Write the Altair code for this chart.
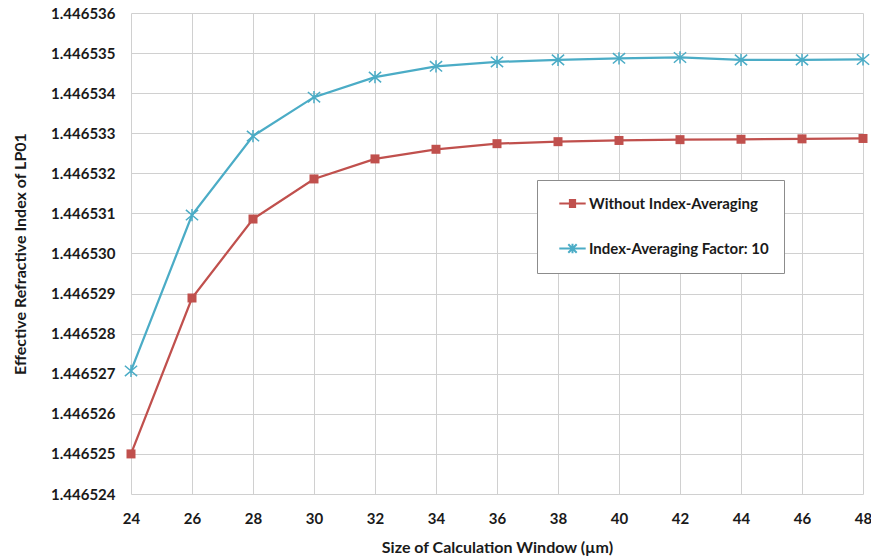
import altair as alt
import pandas as pd

# ---- data ----
window_um = [24, 26, 28, 30, 32, 34, 36, 38, 40, 42, 44, 46, 48]
without_avg = [1.44652500, 1.44652889, 1.44653086, 1.44653186, 1.44653236,
               1.44653260, 1.44653274, 1.44653279, 1.44653282, 1.44653284,
               1.44653285, 1.44653286, 1.44653287]
factor_10 = [1.44652707, 1.44653096, 1.44653293, 1.44653390, 1.44653440,
             1.44653467, 1.44653478, 1.44653483, 1.44653487, 1.44653489,
             1.44653483, 1.44653483, 1.44653484]
series_names = ["Without Index-Averaging", "Index-Averaging Factor: 10"]
x_ticks = [24, 26, 28, 30, 32, 34, 36, 38, 40, 42, 44, 46, 48]
y_ticks = [1.446524, 1.446525, 1.446526, 1.446527, 1.446528, 1.446529, 1.446530,
           1.446531, 1.446532, 1.446533, 1.446534, 1.446535, 1.446536]

RED = "#C0504D"
BLUE = "#4BACC6"
FONT = "Lato"

rows = []
for xv, a, b in zip(window_um, without_avg, factor_10):
    rows.append({"x": xv, "y": a, "series": series_names[0]})
    rows.append({"x": xv, "y": b, "series": series_names[1]})
df = pd.DataFrame(rows)

xenc = alt.X("x:Q",
             scale=alt.Scale(domain=[24, 48], nice=False, zero=False),
             axis=alt.Axis(values=x_ticks, title="Size of Calculation Window (µm)",
                           format="d", ticks=False, tickSize=0, domain=False,
                           labelFlush=False, labelBound=False,
                           labelPadding=17, labelFontSize=15, labelFont=FONT,
                           labelFontWeight="bold", labelColor="#1a1a1a",
                           titleFont=FONT, titleFontSize=16, titleFontWeight="bold",
                           titleColor="#1a1a1a", titleX=366, titleY=53,
                           titleBaseline="middle", titleAlign="center",
                           gridColor="#d0d0d0", gridWidth=1))
yenc = alt.Y("y:Q",
             scale=alt.Scale(domain=[1.446524, 1.446536], nice=False, zero=False),
             axis=alt.Axis(values=y_ticks, format=".6f",
                           title="Effective Refractive Index of LP01",
                           ticks=False, tickSize=0, domain=False,
                           labelFlush=False, labelBound=False,
                           labelPadding=16, labelFontSize=15, labelFont=FONT,
                           labelFontWeight="bold", labelColor="#1a1a1a",
                           titleFont=FONT, titleFontSize=16, titleFontWeight="bold",
                           titleColor="#1a1a1a", titleX=-111, titleY=240.5,
                           titleAngle=270, titleBaseline="middle", titleAlign="center",
                           gridColor="#d0d0d0", gridWidth=1))

base = alt.Chart(df)
red_data = base.transform_filter(alt.datum.series == series_names[0])
blue_data = base.transform_filter(alt.datum.series == series_names[1])

red_line = red_data.mark_line(strokeWidth=2.25, color=RED).encode(x=xenc, y=yenc)
blue_line = blue_data.mark_line(strokeWidth=2.25, color=BLUE).encode(x="x:Q", y="y:Q")

red_pts = red_data.mark_square(size=81, filled=True, color=RED, opacity=1).encode(
    x="x:Q", y="y:Q")

ASTER = "M-1,-0.85L1,0.85M-1,0.85L1,-0.85M0,-1L0,1"
blue_pts = blue_data.mark_point(shape=ASTER, size=150, filled=False, color=BLUE,
                                strokeWidth=1.5, opacity=1).encode(x="x:Q", y="y:Q")

# legend symbols: line segment with marker (stroke-only paths)
LEG_RED = ("M-2.2,0L2.2,0M-0.6,-0.6H0.6M-0.6,-0.4H0.6M-0.6,-0.2H0.6M-0.6,0H0.6"
           "M-0.6,0.2H0.6M-0.6,0.4H0.6M-0.6,0.6H0.6")
LEG_BLUE = "M-2.2,0L2.2,0M-0.7,-0.7L0.7,0.7M-0.7,0.7L0.7,-0.7M0,-0.8L0,0.8"


def make_legend():
    return alt.Legend(title=" ", titleFontSize=1, titlePadding=0,
                      orient="none", legendX=406, legendY=167,
                      strokeColor="#8c8c8c", fillColor="white", padding=15,
                      symbolSize=144, symbolOffset=13, labelOffset=9,
                      rowPadding=27, labelFont=FONT, labelFontSize=15,
                      labelFontWeight="bold", labelColor="#1a1a1a",
                      symbolStrokeWidth=2, labelLimit=400)


legend_layer = base.transform_filter("false").mark_point(filled=False, opacity=1).encode(
    x="x:Q", y="y:Q",
    color=alt.Color("series:N",
                    scale=alt.Scale(domain=series_names, range=[RED, BLUE]),
                    legend=make_legend()),
    shape=alt.Shape("series:N",
                    scale=alt.Scale(domain=series_names, range=[LEG_RED, LEG_BLUE]),
                    legend=make_legend()),
)

chart = alt.layer(red_line, blue_line, red_pts, blue_pts, legend_layer).properties(
    width=732, height=481,
    autosize=alt.AutoSizeParams(type="none"),
    padding={"left": 131, "top": 13, "right": 8, "bottom": 66},
    background="white",
).configure_view(stroke=None)

chart.save("out.html", embed_options={"renderer": "svg", "actions": False})
